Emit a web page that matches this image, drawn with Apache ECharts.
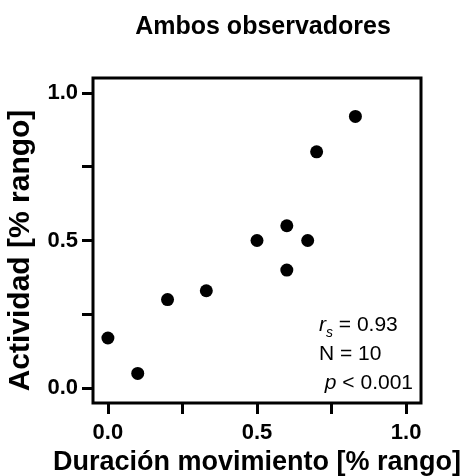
<!DOCTYPE html>
<html><head><meta charset="utf-8">
<script src="https://cdn.jsdelivr.net/npm/echarts@6/dist/echarts.min.js"></script>
<style>html,body{margin:0;padding:0;background:#fff}#c{width:463px;height:476px}</style>
</head><body><div id="c"></div>
<script>
const duracion = [0.00, 0.10, 0.20, 0.33, 0.50, 0.60, 0.60, 0.67, 0.70, 0.83];
const actividad = [0.17, 0.05, 0.30, 0.33, 0.50, 0.55, 0.40, 0.50, 0.80, 0.92];
const tickValues = [0, 0.25, 0.5, 0.75, 1.0];
const labelValues = [0, 0.5, 1.0];
const statLines = ['{it|r}{sub|s} = 0.93', 'N = 10', ' {it|p} < 0.001'];

const chart = echarts.init(document.getElementById('c'), null, {renderer: 'canvas'});
const font = '"Liberation Sans", Arial, sans-serif';
const axisCommon = {
  type: 'value', min: -0.05, max: 1.05,
  axisLine: {show: false, onZero: false},
  splitLine: {show: false},
  axisTick: {show: true, inside: false, length: 11, customValues: tickValues, lineStyle: {color: '#000', width: 3}},
  axisLabel: {customValues: labelValues, formatter: v => v.toFixed(1), color: '#000', fontWeight: 'bold', fontSize: 22, fontFamily: font},
  nameLocation: 'middle',
  nameTextStyle: {color: '#000', fontWeight: 'bold', fontSize: 27, fontFamily: font}
};
chart.setOption({
  animation: false,
  title: {text: 'Ambos observadores', left: 258, top: 10, textAlign: 'center',
    textStyle: {color: '#000', fontWeight: 'bold', fontSize: 25, fontFamily: font}},
  grid: {left: 93, top: 78, right: 42, bottom: 73, show: true, outerBoundsMode: 'none', containLabel: false,
    borderColor: '#000', borderWidth: 3, backgroundColor: 'transparent'},
  xAxis: Object.assign({}, axisCommon, {name: 'Duración movimiento [% rango]', nameGap: 43,
    axisLabel: Object.assign({}, axisCommon.axisLabel, {margin: 19})}),
  yAxis: Object.assign({}, axisCommon, {name: 'Actividad [% rango]', nameGap: 57,
    nameTextStyle: Object.assign({}, axisCommon.nameTextStyle, {fontSize: 30, padding: [0, 20, 0, 0]}),
    axisLabel: Object.assign({}, axisCommon.axisLabel, {margin: 15})}),
  series: [{
    type: 'scatter', symbol: 'circle', symbolSize: 13,
    itemStyle: {color: '#000', opacity: 1},
    data: duracion.map((x, i) => [x, actividad[i]])
  }],
  graphic: [{
    type: 'text', left: 319, top: 311,
    style: {
      text: statLines.join('\n'),
      fill: '#000', font: '21px ' + font, lineHeight: 29,
      rich: {
        it: {fontStyle: 'italic', fontSize: 21, fontFamily: font, fill: '#000'},
        sub: {fontStyle: 'italic', fontSize: 14, fontFamily: font, verticalAlign: 'bottom', padding: [8, 0, 0, 0]}
      }
    }
  }]
});
</script></body></html>
